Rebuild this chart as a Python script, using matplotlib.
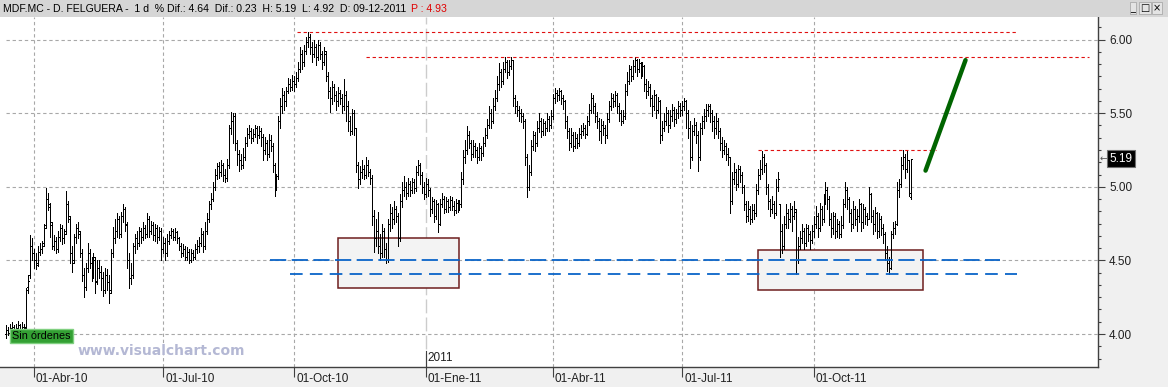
import numpy as np
import pandas as pd
import matplotlib
matplotlib.use('Agg')
import matplotlib.pyplot as plt
from matplotlib.patches import Rectangle
from matplotlib.ticker import MultipleLocator

plt.rcParams['font.family'] = ['Liberation Sans', 'DejaVu Sans']

# daily bars of MDF.MC, prices in cents
opens = [
    400, 403, 401, 404, 405, 402, 404, 406, 403, 405,
    405, 432, 440, 460, 455, 450, 448, 456, 458, 462,
    474, 492, 486, 474, 460, 463, 458, 466, 472, 465,
    470, 488, 478, 455, 450, 466, 472, 468, 455, 440,
    432, 445, 455, 448, 440, 450, 436, 445, 442, 438,
    430, 440, 435, 430, 455, 465, 470, 478, 468, 480,
    485, 474, 450, 438, 440, 460, 465, 462, 470, 466,
    472, 468, 478, 470, 474, 467, 472, 466, 470, 458,
    462, 455, 463, 467, 470, 466, 469, 465, 460, 455,
    458, 452, 456, 450, 455, 452, 458, 460, 462, 468,
    460, 470, 478, 488, 492, 500, 508, 514, 510, 515,
    508, 506, 515, 540, 545, 548, 530, 522, 518, 515,
    520, 530, 536, 538, 533, 536, 540, 535, 538, 534,
    525, 530, 522, 532, 528, 515, 500, 507, 545, 555,
    562, 558, 565, 570, 568, 572, 570, 574, 580, 590,
    585, 592, 598, 602, 595, 590, 595, 588, 596, 590,
    585, 590, 575, 565, 560, 568, 562, 558, 564, 560,
    555, 562, 555, 545, 538, 550, 540, 515, 505, 510,
    512, 508, 515, 510, 506, 480, 465, 470, 460, 455,
    470, 458, 450, 475, 482, 478, 485, 480, 465, 490,
    498, 500, 496, 502, 498, 503, 499, 510, 515, 508,
    500, 495, 502, 498, 485, 490, 480, 488, 475, 488,
    492, 485, 490, 486, 491, 487, 484, 489, 486, 488,
    505, 520, 525, 535, 530, 522, 528, 525, 520, 526,
    523, 530, 535, 542, 550, 545, 555, 560, 570, 578,
    572, 580, 585, 578, 582, 586, 560, 555, 552, 550,
    548, 545, 520, 500, 510, 528, 535, 530, 540, 545,
    538, 543, 540, 546, 542, 548, 560, 564, 562, 565,
    560, 558, 545, 538, 530, 535, 528, 533, 530, 536,
    538, 540, 536, 545, 552, 560, 555, 548, 545, 538,
    542, 540, 535, 546, 555, 560, 558, 562, 555, 550,
    545, 548, 565, 572, 580, 575, 582, 586, 580, 584,
    578, 582, 570, 565, 568, 560, 555, 562, 552, 558,
    535, 540, 545, 550, 542, 548, 552, 546, 550, 555,
    552, 555, 558, 550, 540, 520, 538, 542, 535, 520,
    540, 545, 548, 552, 555, 550, 545, 540, 545, 538,
    530, 525, 528, 522, 520, 490, 505, 510, 502, 512,
    508, 500, 488, 480, 485, 478, 484, 482, 498, 508,
    512, 520, 515, 500, 490, 485, 488, 482, 500, 488,
    470, 460, 475, 482, 478, 485, 480, 483, 450, 460,
    465, 470, 462, 472, 468, 464, 470, 475, 480, 472,
    485, 478, 490, 498, 492, 478, 472, 480, 470, 475,
    468, 474, 488, 498, 492, 482, 475, 485, 478, 480,
    488, 476, 485, 480, 478, 495, 480, 475, 482, 470,
    478, 472, 468, 455, 448, 445, 468, 472, 475, 498,
    502, 515, 520, 512, 518, 493,
]
highs = [
    406, 405, 407, 408, 406, 407, 409, 407, 408, 407,
    431, 440, 467, 465, 458, 455, 460, 462, 463, 475,
    499, 496, 489, 476, 467, 466, 470, 475, 474, 471,
    497, 490, 480, 460, 468, 475, 476, 470, 458, 445,
    448, 462, 458, 452, 455, 452, 450, 450, 446, 442,
    445, 444, 440, 458, 473, 478, 482, 480, 483, 488,
    486, 476, 455, 448, 462, 468, 470, 473, 472, 476,
    474, 482, 480, 477, 476, 475, 474, 473, 472, 466,
    465, 468, 470, 472, 471, 472, 470, 466, 462, 461,
    460, 459, 458, 458, 457, 461, 464, 466, 472, 470,
    476, 482, 490, 496, 503, 512, 516, 517, 518, 516,
    512, 519, 542, 551, 550, 550, 532, 525, 522, 526,
    534, 540, 542, 540, 539, 542, 541, 541, 540, 536,
    534, 532, 536, 535, 530, 516, 509, 548, 560, 567,
    565, 568, 574, 573, 576, 575, 578, 585, 595, 593,
    596, 602, 605, 604, 598, 600, 597, 600, 598, 592,
    595, 592, 578, 568, 572, 570, 565, 568, 566, 563,
    573, 565, 558, 548, 553, 552, 540, 517, 514, 518,
    515, 520, 518, 512, 508, 484, 478, 483, 468, 475,
    472, 462, 478, 488, 486, 490, 487, 482, 495, 503,
    507, 503, 506, 504, 506, 505, 514, 518, 516, 510,
    503, 506, 505, 499, 493, 492, 491, 489, 492, 496,
    494, 493, 492, 494, 493, 490, 492, 491, 491, 510,
    525, 532, 541, 538, 532, 532, 530, 527, 530, 528,
    534, 540, 546, 555, 553, 560, 566, 575, 584, 580,
    585, 588, 586, 586, 588, 586, 562, 558, 555, 553,
    550, 546, 522, 515, 532, 538, 537, 545, 550, 547,
    546, 545, 550, 548, 552, 563, 567, 566, 567, 566,
    562, 559, 548, 540, 540, 537, 537, 536, 540, 542,
    543, 542, 548, 556, 564, 562, 557, 551, 547, 546,
    545, 542, 550, 558, 564, 563, 565, 564, 557, 552,
    552, 570, 578, 583, 582, 586, 588, 587, 587, 585,
    585, 583, 573, 572, 570, 562, 566, 563, 561, 559,
    545, 550, 554, 552, 552, 556, 554, 553, 558, 557,
    558, 560, 559, 552, 545, 542, 547, 544, 538, 543,
    548, 553, 556, 556, 556, 552, 548, 550, 547, 540,
    534, 532, 530, 526, 520, 510, 516, 512, 515, 514,
    510, 501, 490, 490, 487, 488, 488, 502, 512, 518,
    524, 522, 516, 502, 492, 494, 490, 505, 510, 488,
    475, 480, 488, 485, 489, 487, 490, 485, 466, 470,
    475, 472, 475, 474, 470, 474, 480, 487, 482, 489,
    487, 495, 503, 500, 494, 482, 483, 482, 478, 477,
    480, 492, 503, 500, 493, 485, 490, 487, 485, 492,
    489, 488, 486, 482, 500, 496, 484, 486, 483, 482,
    480, 475, 469, 460, 452, 470, 476, 477, 503, 505,
    520, 525, 522, 524, 518, 519,
]
lows = [
    397, 399, 400, 401, 399, 400, 402, 400, 401, 401,
    404, 428, 438, 450, 445, 444, 446, 454, 455, 460,
    472, 484, 466, 458, 457, 455, 456, 463, 461, 462,
    468, 476, 448, 442, 448, 462, 465, 452, 436, 425,
    430, 442, 445, 436, 438, 428, 434, 438, 430, 426,
    428, 430, 421, 428, 452, 462, 466, 465, 466, 476,
    470, 445, 431, 434, 438, 455, 458, 460, 462, 464,
    465, 466, 466, 468, 464, 463, 462, 464, 450, 455,
    450, 453, 461, 465, 464, 464, 462, 457, 452, 453,
    450, 450, 448, 449, 450, 451, 455, 456, 460, 456,
    458, 468, 476, 485, 490, 498, 505, 506, 507, 504,
    503, 504, 513, 536, 530, 525, 515, 511, 512, 513,
    518, 528, 533, 530, 531, 534, 530, 533, 528, 518,
    522, 518, 520, 524, 510, 494, 498, 505, 540, 550,
    552, 555, 564, 565, 566, 565, 568, 572, 578, 580,
    582, 590, 595, 590, 585, 588, 583, 586, 587, 580,
    583, 572, 560, 551, 556, 558, 552, 555, 556, 550,
    552, 545, 538, 535, 536, 535, 510, 499, 502, 506,
    505, 506, 507, 502, 474, 456, 460, 455, 450, 452,
    452, 448, 449, 470, 472, 475, 476, 460, 463, 486,
    494, 492, 494, 494, 496, 496, 497, 508, 502, 496,
    492, 493, 494, 480, 482, 476, 478, 469, 474, 486,
    482, 483, 483, 484, 484, 481, 482, 483, 484, 486,
    502, 516, 522, 526, 518, 520, 520, 516, 518, 518,
    521, 528, 533, 540, 540, 543, 552, 558, 566, 568,
    570, 578, 574, 576, 580, 555, 550, 548, 545, 544,
    540, 515, 493, 498, 508, 525, 524, 528, 537, 534,
    535, 535, 538, 538, 540, 546, 557, 558, 559, 556,
    553, 540, 533, 525, 527, 524, 526, 526, 528, 533,
    535, 533, 535, 542, 550, 550, 544, 540, 532, 530,
    535, 530, 533, 544, 552, 554, 555, 550, 545, 542,
    543, 546, 562, 570, 572, 573, 578, 575, 578, 574,
    575, 565, 560, 562, 555, 548, 552, 547, 550, 530,
    532, 538, 542, 537, 540, 545, 541, 543, 547, 548,
    549, 552, 540, 533, 513, 518, 535, 530, 511, 518,
    536, 540, 545, 548, 544, 538, 533, 536, 533, 525,
    520, 522, 518, 515, 482, 488, 502, 498, 500, 503,
    496, 484, 476, 477, 475, 476, 478, 480, 495, 505,
    509, 510, 495, 485, 480, 482, 479, 481, 497, 452,
    455, 458, 472, 472, 476, 470, 478, 441, 448, 458,
    462, 458, 460, 463, 458, 462, 466, 472, 466, 470,
    474, 476, 488, 485, 474, 466, 468, 465, 466, 465,
    466, 472, 486, 485, 476, 470, 472, 474, 470, 476,
    470, 472, 475, 474, 478, 476, 468, 470, 465, 466,
    467, 462, 450, 443, 441, 444, 465, 468, 474, 493,
    500, 512, 506, 510, 494, 492,
]
closes = [
    403, 401, 404, 405, 402, 404, 406, 403, 405, 404,
    430, 436, 460, 455, 450, 447, 456, 458, 460, 472,
    492, 488, 476, 460, 463, 458, 466, 472, 465, 468,
    488, 480, 455, 448, 466, 472, 470, 455, 440, 432,
    445, 455, 448, 440, 452, 435, 445, 442, 438, 430,
    440, 435, 428, 455, 465, 470, 478, 468, 480, 485,
    475, 450, 438, 440, 460, 465, 462, 470, 466, 472,
    468, 478, 470, 474, 467, 472, 466, 470, 458, 462,
    455, 463, 467, 470, 466, 469, 465, 460, 455, 458,
    452, 456, 450, 455, 452, 458, 460, 462, 468, 460,
    470, 478, 488, 492, 500, 508, 514, 510, 515, 508,
    506, 515, 540, 545, 548, 530, 522, 518, 515, 520,
    530, 536, 538, 533, 536, 540, 535, 538, 534, 525,
    530, 522, 532, 528, 515, 500, 507, 545, 555, 562,
    558, 565, 570, 568, 572, 570, 574, 580, 590, 585,
    592, 598, 602, 595, 590, 595, 588, 596, 590, 585,
    592, 575, 565, 560, 568, 562, 558, 564, 560, 555,
    562, 555, 545, 538, 550, 540, 515, 505, 510, 512,
    508, 515, 510, 506, 480, 465, 470, 460, 455, 470,
    458, 450, 475, 482, 478, 485, 480, 465, 490, 498,
    500, 496, 502, 498, 503, 499, 510, 515, 508, 500,
    495, 502, 498, 485, 490, 480, 488, 475, 488, 492,
    485, 490, 486, 491, 487, 484, 489, 486, 488, 505,
    520, 525, 535, 530, 522, 528, 525, 520, 526, 523,
    530, 535, 542, 550, 545, 555, 560, 570, 578, 572,
    580, 585, 578, 582, 586, 560, 555, 552, 550, 548,
    545, 520, 500, 510, 528, 535, 530, 540, 545, 538,
    543, 540, 546, 542, 548, 560, 564, 562, 565, 560,
    558, 545, 538, 530, 535, 528, 533, 530, 536, 538,
    540, 536, 545, 552, 560, 555, 548, 545, 538, 542,
    540, 535, 546, 555, 560, 558, 562, 555, 550, 545,
    548, 565, 572, 580, 575, 582, 586, 580, 584, 578,
    582, 570, 565, 568, 560, 555, 562, 552, 558, 535,
    540, 545, 550, 542, 548, 552, 546, 550, 555, 552,
    555, 558, 550, 540, 520, 538, 542, 535, 520, 540,
    545, 548, 552, 555, 550, 545, 540, 545, 538, 530,
    525, 528, 522, 520, 490, 505, 510, 502, 512, 508,
    500, 488, 480, 485, 478, 484, 482, 498, 508, 512,
    520, 515, 500, 490, 485, 488, 482, 500, 505, 470,
    460, 475, 482, 478, 485, 480, 485, 450, 460, 465,
    470, 462, 472, 468, 464, 470, 475, 480, 472, 485,
    478, 490, 498, 492, 478, 472, 480, 470, 475, 468,
    474, 488, 498, 492, 482, 475, 485, 478, 480, 488,
    476, 485, 480, 478, 495, 480, 475, 482, 470, 478,
    472, 468, 455, 448, 445, 468, 472, 475, 498, 502,
    515, 520, 512, 518, 496, 519,
]

quarter_starts = ['2010-04-01', '2010-07-01', '2010-10-01', '2011-01-01',
                  '2011-04-01', '2011-07-01', '2011-10-01']
quarter_labels = ['01-Abr-10', '01-Jul-10', '01-Oct-10', '01-Ene-11',
                  '01-Abr-11', '01-Jul-11', '01-Oct-11']
price_ticks = [4.00, 4.50, 5.00, 5.50, 6.00]

# drawn studies: (bar index, price)
resist_lines = [(146.2, 508.5, 6.05), (180.9, 544.7, 5.88), (377.9, 467.8, 5.25)]
support_lines = [(132.7, 499.5, 4.50, (9, 3)), (142.7, 508.5, 4.41, (7, 4))]
boxes = [(167.0, 227.8, 4.31, 4.65), (378.0, 461.0, 4.30, 4.57)]
trend_x = [462.3, 482.4]
trend_y = [5.11, 5.86]

title_txt = 'MDF.MC - D. FELGUERA -  1 d  % Dif.: 4.64  Dif.: 0.23  H: 5.19  L: 4.92  D: 09-12-2011'
title_red = 'P : 4.93'
last_price = '5.19'

dates = pd.bdate_range(end='2011-12-09', periods=len(closes))
idx = np.arange(len(closes))
o = np.array(opens) / 100
h = np.array(highs) / 100
l = np.array(lows) / 100
c = np.array(closes) / 100
qpos = [dates.searchsorted(pd.Timestamp(q)) for q in quarter_starts]

W, H = 1168, 387
fig = plt.figure(figsize=(W / 100, H / 100), dpi=100)
fig.patch.set_facecolor('#f0f0f0')
fig.add_artist(Rectangle((0, 1 - 17 / H), 1, 17 / H, transform=fig.transFigure,
                         facecolor='#d6d6d6', edgecolor='none'))

ax = fig.add_axes([0, (H - 367) / H, 1098 / W, 350 / H])
ax.set_facecolor('white')
ax.set_xlim(-3.0, 549)
ax.set_ylim(3.776, 6.153)
for s in ['left', 'top']:
    ax.spines[s].set_visible(False)
for s in ['bottom', 'right']:
    ax.spines[s].set_color('#404040')
    ax.spines[s].set_linewidth(1.0)

# grid
for p in price_ticks:
    ax.axhline(p, xmin=6 / 1098, color='#a8a8a8', lw=0.8, dashes=(3, 2.5), zorder=0)
for q, lab in zip(qpos, quarter_labels):
    if lab.startswith('01-Ene'):
        ax.axvline(q, color='#cccccc', lw=1.0, dashes=(10, 3), zorder=0)
    else:
        ax.axvline(q, color='#a8a8a8', lw=0.8, dashes=(3, 2.5), zorder=0)

# boxes
for x0, x1, y0, y1 in boxes:
    ax.add_patch(Rectangle((x0, y0), x1 - x0, y1 - y0, facecolor='#f3f3f3',
                           edgecolor='#6e1e1e', lw=1.1, zorder=1))

# bars
ax.vlines(idx, l, h, color='black', lw=0.72, antialiased=False, zorder=3)
ax.hlines(o, idx - 0.55, idx, color='black', lw=0.72, antialiased=False, zorder=3)
ax.hlines(c, idx, idx + 0.55, color='black', lw=0.72, antialiased=False, zorder=3)

# studies
for x0, x1, y in resist_lines:
    ax.plot([x0, x1], [y, y], color='#e01010', lw=0.8, dashes=(3, 2.5), zorder=4)
for x0, x1, y, dsh in support_lines:
    ax.plot([x0, x1], [y, y], color='#0a64c8', lw=1.3, dashes=dsh, zorder=4)
ax.plot(trend_x, trend_y, color='#006400', lw=3.2, solid_capstyle='round', zorder=4)

# axes ticks
ax.yaxis.tick_right()
ax.set_yticks(price_ticks)
ax.set_yticklabels([f'{p:.2f}' for p in price_ticks])
ax.yaxis.set_minor_locator(MultipleLocator(1 / 12))
ax.tick_params(axis='y', which='major', length=5, width=0.8, color='#404040',
               pad=3, labelsize=8.5, labelcolor='#202020')
ax.tick_params(axis='y', which='minor', length=2.5, width=0.8, color='#404040')
ax.set_xticks(qpos)
ax.set_xticklabels([])
ax.tick_params(axis='x', length=7.5, width=0.8, color='#404040')
for q, lab in zip(qpos, quarter_labels):
    ax.annotate(lab, xy=(q, 0), xycoords=('data', 'axes fraction'), xytext=(2, -6),
                textcoords='offset pixels', ha='left', va='top', fontsize=8.5,
                color='#202020')
jan = qpos[quarter_labels.index('01-Ene-11')]
ax.plot([jan, jan], [0, 16 / 350], color='#404040', lw=0.8,
        transform=ax.get_xaxis_transform(), clip_on=False, zorder=5)
ax.annotate('2011', xy=(jan, 0), xycoords=('data', 'axes fraction'), xytext=(2, 3),
            textcoords='offset pixels', ha='left', va='bottom', fontsize=8.5, color='#202020')

# last price marker
fig.text(1109.5 / W, 1 - 158.5 / H, last_price, color='white', fontsize=8.5,
         va='center', ha='left',
         bbox=dict(boxstyle='square,pad=0.18', facecolor='black', edgecolor='#707070', lw=0.8))
fig.text(1100 / W, 1 - 158.5 / H, '\u2190', color='#505050', fontsize=6.5,
         va='center', ha='left', family=['DejaVu Sans'])

# title bar: black part, then red part right after it
t = fig.text(3 / W, 1 - 8.5 / H, title_txt, fontsize=7.6, va='center', ha='left', color='black')
fig.canvas.draw()
bb = t.get_window_extent(renderer=fig.canvas.get_renderer())
fig.text((bb.x1 + 5) / W, 1 - 8.5 / H, title_red, fontsize=7.6, va='center', ha='left',
         color='#e00000')
for xb, glyph in zip([1133, 1145, 1157], ['_', '\u25a1', '\u00d7']):
    fig.text(xb / W, 1 - 8 / H, glyph, fontsize=7, va='center', ha='center', color='black',
             family=['DejaVu Sans'],
             bbox=dict(boxstyle='square,pad=0.1', facecolor='#e4e4e4', edgecolor='#a0a0a0', lw=0.5))

# labels
fig.text(12 / W, 1 - 336 / H, 'Sin órdenes', fontsize=7.8, va='center', ha='left', color='black',
         bbox=dict(boxstyle='square,pad=0.22', facecolor='#33a033', edgecolor='#80d080', lw=1))
fig.text(78 / W, 1 - 351 / H, 'www.visualchart.com', fontsize=10, fontweight='bold',
         va='center', ha='left', color='#b4b8d4', family=['DejaVu Sans'])

fig.savefig('out.png', dpi=100)
